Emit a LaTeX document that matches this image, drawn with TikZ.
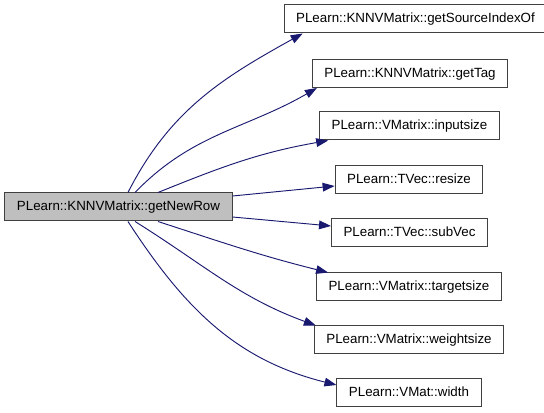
\documentclass[tikz,border=0pt]{standalone}
\usepackage{fontspec}
\setmainfont{Liberation Sans}
\usetikzlibrary{arrows.meta}
\definecolor{edgeblue}{HTML}{191970}
\definecolor{boxgray}{HTML}{BFBFBF}
\definecolor{boxline}{HTML}{404040}

\begin{document}
\begin{tikzpicture}[x=0.75pt, y=0.75pt,
  fn/.style={draw=boxline, line width=0.75pt, fill=white, minimum height=21pt,
    inner xsep=9pt, inner ysep=0pt, text height=7.3pt, text depth=2pt,
    font=\fontsize{10pt}{12pt}\selectfont},
  call/.style={draw=edgeblue, line width=0.7pt, -{Triangle[length=9pt, width=6.5pt]}}]
\useasboundingbox (0,0) rectangle (544,-413);

% caller
\node[fn, fill=boxgray] (getnewrow) at (118.5,-207) {PLearn::KNNVMatrix::getNewRow};

% callees
\node[fn] (getsourceindexof) at (415.5,-19)  {PLearn::KNNVMatrix::getSourceIndexOf};
\node[fn] (gettag)           at (410,-73.5)  {PLearn::KNNVMatrix::getTag};
\node[fn] (inputsize)        at (409.5,-126) {PLearn::VMatrix::inputsize};
\node[fn] (resize)           at (409,-180)   {PLearn::TVec::resize};
\node[fn] (subvec)           at (409.5,-233) {PLearn::TVec::subVec};
\node[fn] (targetsize)       at (409,-287)   {PLearn::VMatrix::targetsize};
\node[fn] (weightsize)       at (409,-340)   {PLearn::VMatrix::weightsize};
\node[fn] (width)            at (409,-393)   {PLearn::VMat::width};

% calls
\draw[call] ([xshift=7.1pt]getnewrow.north) to[out=63, in=209] ([xshift=14.25pt]getsourceindexof.south west);
\draw[call] ([xshift=12.4pt]getnewrow.north) to[out=46, in=210] ([xshift=3.75pt]gettag.south west);
\draw[call] ([xshift=29.6pt]getnewrow.north) to[out=22, in=190] ([xshift=6.75pt]inputsize.south west);
\draw[call] ([yshift=8.25pt]getnewrow.east) -- ([yshift=-4.5pt]resize.west);
\draw[call] ([yshift=-7.5pt]getnewrow.east) -- ([yshift=5.25pt]subvec.west);
\draw[call] ([xshift=29.6pt]getnewrow.south) to[out=-18, in=166] ([xshift=9pt]targetsize.north west);
\draw[call] ([xshift=12.4pt]getnewrow.south) to[out=-32, in=160] ([xshift=1.5pt]weightsize.north west);
\draw[call] ([xshift=7.1pt]getnewrow.south) to[out=-57, in=166] ([yshift=6pt]width.west);
\end{tikzpicture}
\end{document}
